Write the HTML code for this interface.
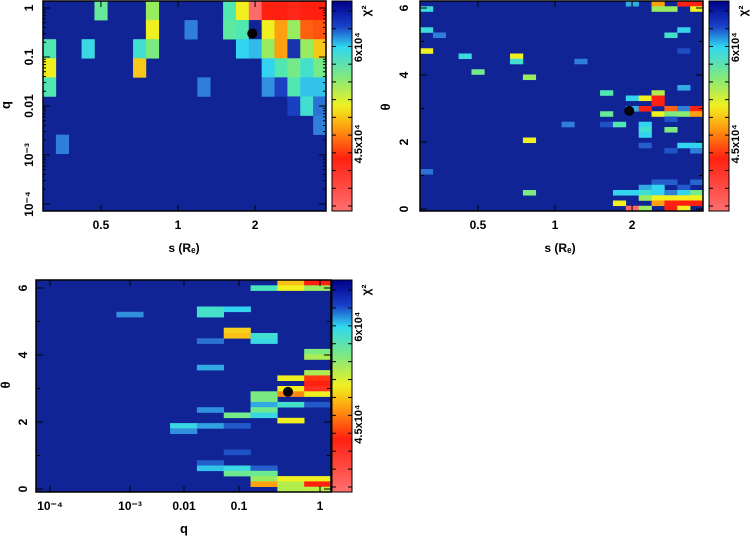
<!DOCTYPE html>
<html><head><meta charset="utf-8">
<style>
html,body{margin:0;padding:0;background:#fff;}
svg{display:block;font-family:"Liberation Sans",sans-serif;font-weight:bold;}
</style></head>
<body>
<svg id="chart" width="754" height="537" viewBox="0 0 754 537"></svg>
<script>
// ---- Panel 1: q vs s (11 rows x 22 cols), sparse cells (row from top, col, colour level 0..9)
const p1Rows=[0,0,0,0,0,0,0,0,0,0, 1,1,1,1,1,1,1,1,1,1, 2,2,2,2,2,2,2,2,2,2,2, 3,3,3,3,3,3,3, 4,4,4,4,4,4,4, 5,5,5, 6, 7];
const p1Cols=[4,8,14,15,16,17,18,19,20,21, 8,11,14,15,16,17,18,19,20,21, 0,3,7,8,15,16,17,18,19,20,21, 0,7,17,18,19,20,21, 0,12,17,18,19,20,21, 19,20,21, 21, 1];
const p1Level=[4.3,5,4,6,9,8,8,8.1,8,8, 6,2,4.2,4,0,6,7,5,7.5,7.6, 4,3.2,3.5,4.6,3,2.7,5,7,0.6,5,6.5, 6,6.5,3,4,4.5,3.6,4.5, 4,2,2.2,1,4,2.8,2.8, 1,3.5,1.8, 2, 2];
// ---- Panel 2: theta vs s (40 rows x 22 cols)
const p2Rows=[1,5,9,32, 6, 10, 13, 10,11, 14,26,36, 23, 11, 17,21,23, 23,36,38, 0,18,20,36,39, 18,20,23,24,25,27,35,36,37,39, 0,1,17,18,19,21,34,35,36,37,38, 1,6,20,21,22,24,28,34,36,37,38,39, 0,5,9,16,20,21,27,35,36,37,38,39, 0,1,20,21,27,28,34,36,37,38];
const p2Cols=[0,0,0,0, 1, 3, 4, 7,7, 8,8,8, 11, 12, 14,14,14, 15,15,15, 16,16,16,16,16, 17,17,17,17,17,17,17,17,17,17, 18,18,18,18,18,18,18,18,18,18,18, 19,19,19,19,19,19,19,19,19,19,19,19, 20,20,20,20,20,20,20,20,20,20,20,20, 21,21,21,21,21,21,21,21,21,21];
const p2Level=[3.3,3.3,6,1.8, 2, 3.3, 4.5, 6,3.5, 5,6,4.6, 2, 2, 4,4.3,1.3, 4,3,6, 2.5,3,2.6,3,9, 6,8,3,3.5,3,1.5,2.5,3.5,5,5, 7,5,5.3,8,8,6,1.5,3,3,6,7, 5,3.6,7.5,4.6,1.3,4.6,1.3,1.5,2,6,8,8, 8,3,1.2,2.5,2,4.8,3,1.4,3,6,8,6, 8,6,8,7,3,2,1.6,4.5,6,8];
// ---- Panel 3: theta vs q (40 rows x 11 cols)
const p3Rows=[6, 27,28, 5,6,11,16,24,27,34,35, 5,9,10,25,27,32,35,36, 1,10,11,21,22,23,24,25,35,36,37,38, 0,1,18,20,21,23,26,37,38,39, 0,1,13,14,17,18,19,20,21,23,37,38,39];
const p3Cols=[3, 5,5, 6,6,6,6,6,6,6,6, 7,7,7,7,7,7,7,7, 8,8,8,8,8,8,8,8,8,8,8,8, 9,9,9,9,9,9,9,9,9,9, 10,10,10,10,10,10,10,10,10,10,10,10,10];
const p3Level=[2.2, 3.2,2.2, 3.6,3.6,1.8,2.5,2.2,2.4,1.5,2.8, 3,6.4,6.6,4.5,1.4,1.3,3.2,4.4, 3.8,3.5,3.2,4.6,4.6,2.5,4.4,3.2,1.5,4.4,5,7, 6.6,6,6,6,7.2,3.6,6,6,5.3,5.3, 8,5,4.6,5.2,5.2,7.8,8,8.2,6,1.4,6,8,5.4];

// tick labels
const sTickLabels=["0.5","1","2"];
const sTickVals=[0.5,1,2];
const qTickLabels1=["1","0.1","0.01","10\u207B\u00B3","10\u207B\u2074"];
const qTickVals1=[0,-1,-2,-3,-4];
const thTickLabels=["0","2","4","6"];
const thTickVals=[0,2,4,6];
const q3TickLabels=["10\u207B\u2074","10\u207B\u00B3","0.01","0.1","1"];
const q3TickPix=[50,130,184,239,320];
const bestFit={s:1.95,logq:-0.5,theta:2.9};

const NS="http://www.w3.org/2000/svg";
const svg=document.getElementById('chart');
function mk(tag,attrs,parent){const e=document.createElementNS(NS,tag);for(const k in attrs)e.setAttribute(k,attrs[k]);(parent||svg).appendChild(e);return e;}

const stops=[[0,[16,36,150]],[1,[26,63,192]],[2,[47,127,216]],[3,[51,212,240]],[4,[80,232,176]],[5,[152,236,96]],[6,[240,240,32]],[7,[255,160,16]],[8,[255,32,16]],[9,[255,106,106]]];
function col(v){v=Math.max(0,Math.min(9,v));const i=Math.min(8,Math.floor(v));const t=v-i;const a=stops[i][1],b=stops[i+1][1];
 return 'rgb('+a.map((c,k)=>Math.round(c+(b[k]-c)*t)).join(',')+')';}

function panel(cfg,rows,cols,levels,name){
 const g=mk('g',{});
 
 
 const bg=mk('rect',{x:cfg.x0,y:cfg.y0,width:cfg.x1-cfg.x0,height:cfg.y1-cfg.y0,fill:col(0)},g);
 
 
 const cw=(cfg.x1-cfg.x0)/cfg.nc, rh=(cfg.y1-cfg.y0)/cfg.nr;
 for(let i=0;i<rows.length;i++){
  const r=mk('rect',{x:(cfg.x0+cols[i]*cw).toFixed(2),y:(cfg.y0+rows[i]*rh).toFixed(2),width:(cw+0.3).toFixed(2),height:(rh+0.3).toFixed(2),fill:col(levels[i])},g);
  
  
 }
 const fr=mk('rect',{x:cfg.x0,y:cfg.y0,width:cfg.x1-cfg.x0,height:cfg.y1-cfg.y0,fill:'none',stroke:'#000','stroke-width':1.5},g);
 
 
 const cx0=cfg.x1+cfg.cbOff;
 const cb=mk('rect',{x:cx0,y:cfg.y0,width:20,height:cfg.y1-cfg.y0,fill:'url(#cbgrad)',stroke:'#000','stroke-width':1},g);
 
 
 for(let k=0;k<12;k++){const yy=cfg.y0+10+k*(cfg.y1-cfg.y0-15)/11;
  mk('line',{x1:cx0,x2:cx0+4,y1:yy,y2:yy,stroke:'#000'},g);
  mk('line',{x1:cx0+20,x2:cx0+16,y1:yy,y2:yy,stroke:'#000'},g);}
 const cbl=[["6x10\u2074",0.22],["4.5x10\u2074",0.68]];
 cbl.forEach(c=>{const yy=cfg.y0+c[1]*(cfg.y1-cfg.y0);const cx=cx0+30;
  const t=mk('text',{x:cx,y:yy,'font-size':11,'text-anchor':'middle',transform:'rotate(-90 '+cx+' '+yy+')'},g);t.textContent=c[0];
  
  });
 const cx2=cx0+38, cy2=cfg.y0+10;
 const ct=mk('text',{x:cx2,y:cy2,'font-size':12,'text-anchor':'middle',transform:'rotate(-90 '+cx2+' '+cy2+')'},g);ct.textContent='\u03C7\u00B2';
 
 
 return g;
}
const defs=mk('defs',{});
const lg=mk('linearGradient',{id:'cbgrad',x1:0,y1:0,x2:0,y2:1},defs);
[[0,'#00008a'],[0.12,'#1a40c8'],[0.22,'#30d8f0'],[0.36,'#80e880'],[0.5,'#f0f020'],[0.6,'#ffa010'],[0.75,'#ff2010'],[1,'#ff7070']].forEach(s=>mk('stop',{offset:s[0],'stop-color':s[1]},lg));

function txt(x,y,s,size,rot,name){const a={x:x,y:y,'font-size':size,'text-anchor':'middle'};if(rot)a.transform='rotate(-90 '+x+' '+y+')';
 const t=mk('text',a);t.textContent=s;return t;}
function tick(x1,y1,x2,y2){mk('line',{x1:x1,y1:y1,x2:x2,y2:y2,stroke:'#000','stroke-width':1});}

// ---- Panel 1
const P1={x0:43,x1:326,y0:1,y1:211,nc:22,nr:11,cbOff:6};
panel(P1,p1Rows,p1Cols,p1Level,'panel-q-vs-s');
const sx1=s=>178+256*Math.log10(s);
const qy1=l=>8-49*l;
sTickVals.forEach((v,i)=>{const x=sx1(v);tick(x,P1.y1,x,P1.y1-6);tick(x,P1.y0,x,P1.y0+6);txt(x,229,sTickLabels[i],12,false,'x-tick-label');});
qTickVals1.forEach((v,i)=>{const y=qy1(v);tick(P1.x0,y,P1.x0+7,y);tick(P1.x1,y,P1.x1-7,y);
 for(let m=2;m<10;m++){const ym=y-49*Math.log10(m);if(ym>P1.y0&&ym<P1.y1){tick(P1.x0,ym,P1.x0+3,ym);tick(P1.x1,ym,P1.x1-3,ym);}}
 txt(33,y,qTickLabels1[i],12,true,'y-tick-label');});
txt(10,105,'q',13,true,'y-axis-title');
txt(184,252,'s (R\u2091)',12,false,'x-axis-title');
const d1=mk('circle',{cx:sx1(bestFit.s),cy:qy1(bestFit.logq)+1,r:5,fill:'#000'});


// ---- Panel 2
const P2={x0:420,x1:703,y0:1,y1:211,nc:22,nr:40,cbOff:6};
panel(P2,p2Rows,p2Cols,p2Level,'panel-theta-vs-s');
const sx2=s=>555+256*Math.log10(s);
const ty2=t=>209-33.5*t;
sTickVals.forEach((v,i)=>{const x=sx2(v);tick(x,P2.y1,x,P2.y1-6);tick(x,P2.y0,x,P2.y0+6);txt(x,229,sTickLabels[i],12,false,'x-tick-label');});
thTickVals.forEach((v,i)=>{const y=ty2(v);tick(P2.x0,y,P2.x0+7,y);tick(P2.x1,y,P2.x1-7,y);txt(408,y,thTickLabels[i],12,true,'y-tick-label');
 const ym=ty2(v+1);if(ym>P2.y0){tick(P2.x0,ym,P2.x0+4,ym);tick(P2.x1,ym,P2.x1-4,ym);}});
txt(390,107,'\u03B8',13,true,'y-axis-title');
txt(560,252,'s (R\u2091)',12,false,'x-axis-title');
const d2=mk('circle',{cx:sx2(bestFit.s),cy:ty2(bestFit.theta)-1,r:5,fill:'#000'});


// ---- Panel 3
const P3={x0:36,x1:331,y0:280,y1:492,nc:11,nr:40,cbOff:1};
panel(P3,p3Rows,p3Cols,p3Level,'panel-theta-vs-q');
const ty3=t=>489-33.5*t;
q3TickPix.forEach((x,i)=>{tick(x,P3.y1,x,P3.y1-6);tick(x,P3.y0,x,P3.y0+6);txt(x,510,q3TickLabels[i],12,false,'x-tick-label');});
thTickVals.forEach((v,i)=>{const y=ty3(v);tick(P3.x0,y,P3.x0+7,y);tick(P3.x1,y,P3.x1-7,y);txt(27,y,thTickLabels[i],12,true,'y-tick-label');
 const ym=ty3(v+1);if(ym>P3.y0){tick(P3.x0,ym,P3.x0+4,ym);tick(P3.x1,ym,P3.x1-4,ym);}});
txt(10,385,'\u03B8',13,true,'y-axis-title');
txt(184,533,'q',13,false,'x-axis-title');
const d3=mk('circle',{cx:288,cy:ty3(bestFit.theta),r:5,fill:'#000'});

</script>
</body></html>
